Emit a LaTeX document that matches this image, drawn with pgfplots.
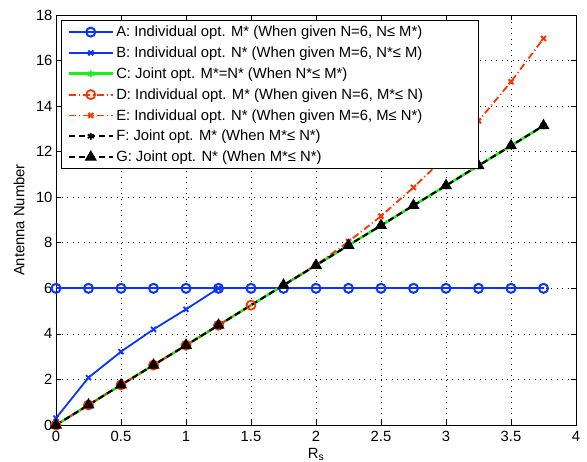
\documentclass[border=0pt]{standalone}
\usepackage{pgfplots}
\pgfplotsset{compat=1.18}
\usepackage{fontspec}
\setmainfont{Liberation Sans}
\definecolor{mblue}{rgb}{0.05,0.2,1}
\definecolor{mred}{rgb}{1,0.2,0}
\definecolor{mgreen}{rgb}{0.1,0.95,0.1}
\begin{document}
\begin{tikzpicture}
\begin{axis}[
  scale only axis,
  width=520pt, height=410pt,
  xmin=0, xmax=4, ymin=0, ymax=18,
  xtick={0,0.5,...,4}, ytick={0,2,...,18},
  xticklabels={0,0.5,1,1.5,2,2.5,3,3.5,4},
  tick align=inside, major tick length=5pt,
  tick style={black, line width=0.6pt},
  axis line style={line width=0.8pt},
  grid=major,
  grid style={black, dash pattern=on 1pt off 4.5pt, line width=0.7pt},
  /pgf/number format/assume math mode=true,
  tick label style={font=\fontsize{14.8}{16}\selectfont},
  xticklabel style={yshift=-3pt},
  label style={font=\fontsize{14.8}{16}\selectfont},
  xlabel={R\textsubscript{s}},
  ylabel={Antenna Number},
  xlabel style={yshift=1pt},
  ylabel style={yshift=4.5pt},
  legend cell align=left,
  legend style={at={(rel axis cs:0.009,0.988)}, anchor=north west,
    draw=black, line width=1.2pt, font=\fontsize{14.8}{16}\selectfont,
    row sep=3.6pt, inner xsep=6pt, inner ysep=3pt,
    nodes={inner ysep=2.5pt}},
  legend image code/.code={
    \draw[mark repeat=2,mark phase=2] plot coordinates {(0cm,0cm) (0.78cm,0cm) (1.56cm,0cm)};},
]
% A
\addplot[mblue, line width=2pt, mark=o, mark size=4.5pt, mark options={solid, line width=2pt}] coordinates {
(0,6)(0.25,6)(0.5,6)(0.75,6)(1,6)(1.25,6)(1.5,6)(1.75,6)(2,6)(2.25,6)(2.5,6)(2.75,6)(3,6)(3.25,6)(3.5,6)(3.75,6)};
\addlegendentry{A: Individual opt. M* (When given N=6, N≤ M*)\hspace*{48pt}}
% B
\addplot[mblue, line width=1.8pt, mark=x, mark size=3.5pt, mark options={solid, line width=1.8pt}] coordinates {
(0,0.3)(0.25,2.08)(0.5,3.22)(0.75,4.2)(1,5.08)(1.25,6.0)};
\addlegendentry{B: Individual opt. N* (When given M=6, N*≤ M)}
% C
\addplot[mgreen, line width=2.6pt, mark=asterisk, mark size=3.5pt, mark options={solid, line width=1.6pt}] coordinates {
(0,0)(0.25,0.88)(0.5,1.76)(0.75,2.63)(1,3.5)(1.25,4.38)(1.75,6.14)(2,7.01)(2.25,7.89)(2.5,8.76)(2.75,9.64)(3,10.51)(3.25,11.39)(3.5,12.26)(3.75,13.14)};
\addlegendentry{C: Joint opt. M*=N* (When N*≤ M*)}
% D
\addplot[mred, line width=1.8pt, dash pattern=on 7pt off 3pt on 1pt off 3pt, mark=o, mark size=4.5pt, mark options={solid, line width=1.8pt}] coordinates {
(0,0)(0.25,0.88)(0.5,1.76)(0.75,2.63)(1,3.5)(1.25,4.38)(1.5,5.26)};
\addlegendentry{D: Individual opt. M* (When given N=6, M*≤ N)}
% E
\addplot[mred, line width=1.8pt, dash pattern=on 7pt off 3pt on 1pt off 3pt, mark=x, mark size=3.5pt, mark options={solid, line width=2pt}] coordinates {
(1.75,6.14)(2,7.02)(2.25,8.05)(2.5,9.17)(2.75,10.43)(3,11.8)(3.25,13.35)(3.5,15.07)(3.75,16.97)};
\addlegendentry{E: Individual opt. N* (When given M=6, M≤ N*)}
% F
\addplot[black, line width=1.8pt, dash pattern=on 6pt off 4pt, mark=asterisk, mark size=3.5pt, mark options={solid, line width=1.8pt}] coordinates {
(0,0)(0.25,0.88)(0.5,1.76)(0.75,2.63)(1,3.5)(1.25,4.38)(1.75,6.14)(2,7.01)(2.25,7.89)(2.5,8.76)(2.75,9.64)(3,10.51)(3.25,11.39)(3.5,12.26)(3.75,13.14)};
\addlegendentry{F: Joint opt. M* (When M*≤ N*)}
% G
\addplot[black, line width=1.8pt, dash pattern=on 6pt off 4pt, mark=triangle*, mark size=6pt, mark options={solid, fill=black, line width=1pt}] coordinates {
(0,0)(0.25,0.88)(0.5,1.76)(0.75,2.63)(1,3.5)(1.25,4.38)(1.75,6.14)(2,7.01)(2.25,7.89)(2.5,8.76)(2.75,9.64)(3,10.51)(3.25,11.39)(3.5,12.26)(3.75,13.14)};
\addlegendentry{G: Joint opt. N* (When M*≤ N*)}
\end{axis}
\pgfresetboundingbox
\path[use as bounding box] ([shift={(-56pt,-36pt)}]current axis.south west) rectangle ([shift={(11pt,15pt)}]current axis.north east);
\end{tikzpicture}
\end{document}
